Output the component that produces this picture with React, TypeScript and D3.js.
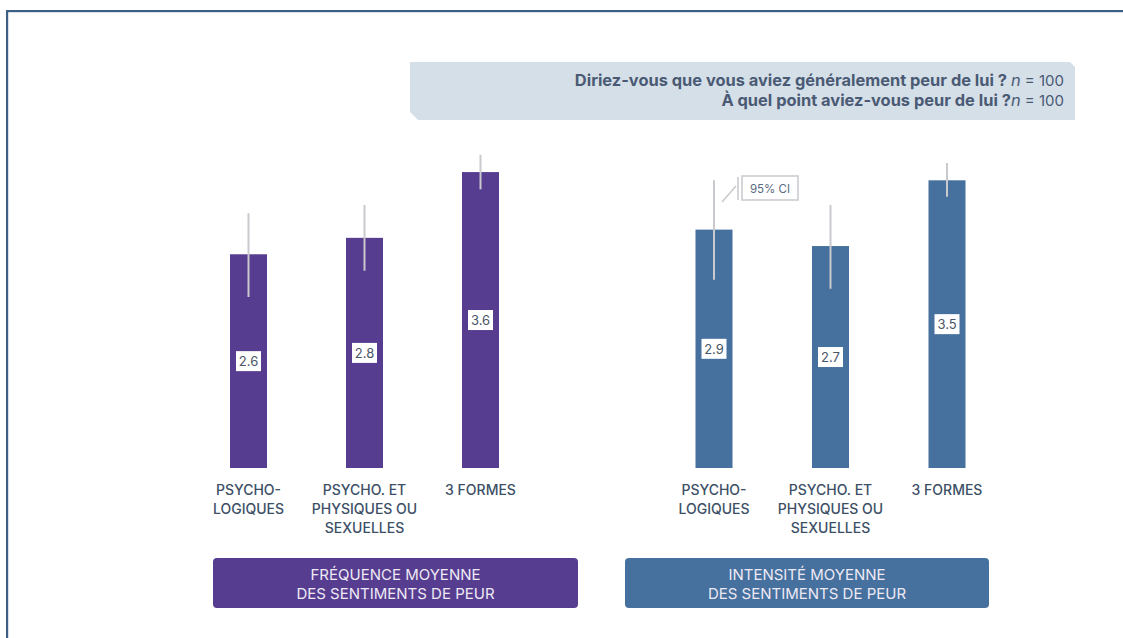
import React from "react";
import * as d3 from "d3";

const categories = ["psy", "psyphys", "trois"];
const categoryLines = [["PSYCHO-", "LOGIQUES"], ["PSYCHO. ET", "PHYSIQUES OU", "SEXUELLES"], ["3 FORMES"]];
const freqValues = [2.6, 2.8, 3.6];
const freqLow = [2.08, 2.4, 3.39];
const freqHigh = [3.1, 3.2, 3.81];
const intValues = [2.9, 2.7, 3.5];
const intLow = [2.29, 2.18, 3.3];
const intHigh = [3.5, 3.2, 3.71];
const groupTitles = [["FRÉQUENCE MOYENNE", "DES SENTIMENTS DE PEUR"], ["INTENSITÉ MOYENNE", "DES SENTIMENTS DE PEUR"]];
const headerLines = [
  { q: "Diriez-vous que vous aviez généralement peur de lui ? ", n: 100 },
  { q: "À quel point aviez-vous peur de lui ?", n: 100 },
];

const FONT = "Inter, 'Noto Sans', sans-serif";
const W = 1123;
const H = 638;

export default function App() {
  const y = d3.scaleLinear().domain([0, 4]).range([468, 468 - 4 * 82.2]);
  const groups = [
    { values: freqValues, low: freqLow, high: freqHigh, color: "#573d90", range: [248.5, 480.5], box: [213, 578], title: groupTitles[0] },
    { values: intValues, low: intLow, high: intHigh, color: "#46709d", range: [714, 947], box: [625, 989], title: groupTitles[1] },
  ];
  const bw = 37;
  return (
    <div style={{ position: "fixed", left: 0, top: 0, width: W, height: H, overflow: "hidden" }}>
      <svg width={W} height={H} style={{ display: "block", fontFamily: FONT }}>
        <rect width={W} height={H} fill="#fff" />
        <rect x={6} y={10} width={2.2} height={H - 10} fill="#3e5f85" />
        <rect x={6} y={10} width={W - 6} height={2.2} fill="#3e5f85" />
        {/* header */}
        <path d="M410,62 L1070,62 L1075,67 L1075,120 L418,120 L410,112 Z" fill="#d5dfe8" />
        {headerLines.map((h, i) => (
          <text key={i} x={1064} y={85.5 + i * 20} textAnchor="end" fontSize={16.4} fill="#4a5a74">
            <tspan fontWeight={700}>{h.q}</tspan>
            <tspan fontStyle="italic">n</tspan>
            <tspan fontSize={15}> = {h.n}</tspan>
          </text>
        ))}
        {groups.map((g, gi) => {
          const x = d3.scalePoint<string>().domain(categories).range(g.range as [number, number]);
          return (
            <g key={gi}>
              {categories.map((c, i) => {
                const cx = x(c)!;
                const v = g.values[i];
                const top = y(v);
                const mid = (top + y(0)) / 2;
                return (
                  <g key={c}>
                    <rect x={cx - bw / 2} y={top} width={bw} height={y(0) - top} fill={g.color} />
                    <line x1={cx} x2={cx} y1={y(g.high[i])} y2={y(g.low[i])} stroke="#c9c9ce" strokeWidth={2} />
                    <rect x={cx - 12.5} y={mid - 10} width={25} height={20} fill="#fff" />
                    <text x={cx} y={mid + 5} textAnchor="middle" fontSize={13} fill="#4a5568">
                      {v.toFixed(1)}
                    </text>
                    {categoryLines[i].map((ln, li) => (
                      <text key={li} x={cx} y={494.5 + li * 19} textAnchor="middle" fontSize={14} fontWeight={500} fill="#3d4f66">
                        {ln}
                      </text>
                    ))}
                  </g>
                );
              })}
              <rect x={g.box[0]} y={558} width={g.box[1] - g.box[0]} height={50} rx={4} fill={g.color} />
              {g.title.map((t, ti) => (
                <text key={ti} x={(g.box[0] + g.box[1]) / 2} y={579.5 + ti * 19} textAnchor="middle" fontSize={15} fill="#eeeaf5">
                  {t}
                </text>
              ))}
            </g>
          );
        })}
        {/* CI callout */}
        <line x1={722} y1={202} x2={736} y2={186} stroke="#c9c9ce" strokeWidth={1.5} />
        <line x1={738} y1={177} x2={738} y2={200} stroke="#c9c9ce" strokeWidth={1.5} />
        <rect x={742} y={176} width={56} height={24} fill="#fff" stroke="#c9c9ce" strokeWidth={1.5} />
        <text x={770} y={192.5} textAnchor="middle" fontSize={11.5} fill="#5a6a80">95% CI</text>
      </svg>
    </div>
  );
}
